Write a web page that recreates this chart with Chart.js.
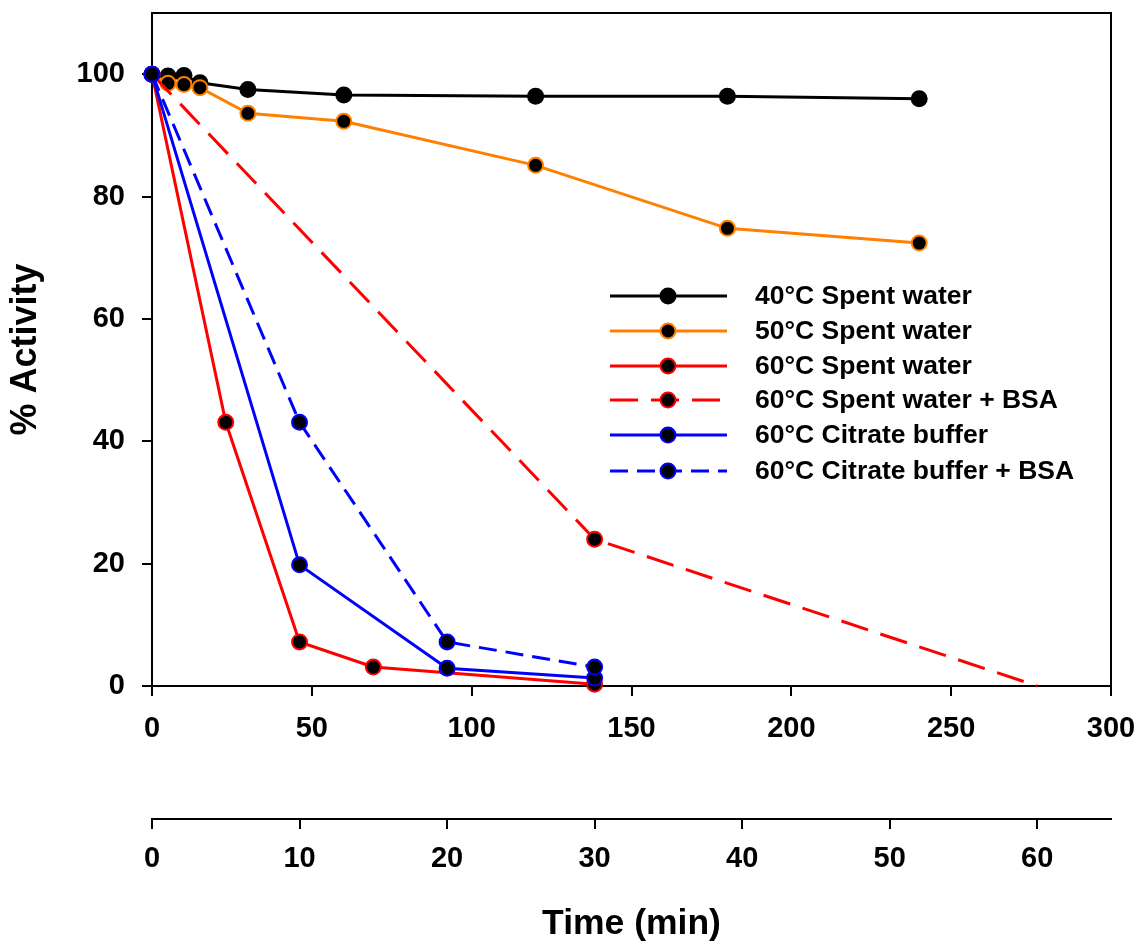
<!DOCTYPE html>
<html>
<head>
<meta charset="utf-8">
<script src="https://cdn.jsdelivr.net/npm/chart.js@4"></script>
<style>
  body { margin: 0; background: #fff; }
  #wrap { width: 1144px; height: 949px; }
</style>
</head>
<body>
<div id="wrap"><canvas id="chart"></canvas></div>
<script>
// time axes (min)
const timeLong = [0, 5, 10, 15, 30, 60, 120, 180, 240];
const time60 = [0, 5, 10, 15, 30];
const time60Bsa = [0, 30, 60];
const timeCitrate = [0, 10, 20, 30];

// % activity
const act40 = [100, 99.7, 99.8, 98.6, 97.5, 96.6, 96.4, 96.4, 96.0];
const act50 = [100, 98.5, 98.3, 97.8, 93.6, 92.3, 85.1, 74.8, 72.4];
const act60 = [100, 43.1, 7.2, 3.1, 0.3];
const act60Bsa = [100, 24.0, 0];
const actCitrate = [100, 19.8, 2.9, 1.3];
const actCitrateBsa = [100, 43.1, 7.2, 3.1];

const seriesNames = [
  '40°C Spent water',
  '50°C Spent water',
  '60°C Spent water',
  '60°C Spent water + BSA',
  '60°C Citrate buffer',
  '60°C Citrate buffer + BSA'
];

// axis ranges / tick steps
const yRange = { min: 0, max: 110, step: 20, lastTick: 100 };
const xRange = { min: 0, max: 300, step: 50, lastTick: 300 };
const x2Range = { min: 0, max: 65, step: 10, lastTick: 60 };

const FONT = "'Liberation Sans', Arial, sans-serif";

function pts(xs, ys) {
  return xs.map((x, i) => ({ x: x, y: ys[i] }));
}

function series(name, xs, ys, color, axis, dash, order) {
  return {
    label: name,
    data: pts(xs, ys),
    xAxisID: axis,
    showLine: true,
    borderColor: color,
    borderWidth: 3,
    borderDash: dash,
    pointBackgroundColor: '#000',
    pointBorderColor: color,
    pointBorderWidth: 2,
    pointRadius: 7.5,
    clip: false,
    order: order
  };
}

const datasets = [
  series(seriesNames[0], timeLong, act40, '#000000', 'x', [], 6),
  series(seriesNames[1], timeLong, act50, '#FF8000', 'x', [], 5),
  series(seriesNames[2], time60, act60, '#FF0000', 'x2', [], 4),
  series(seriesNames[3], time60Bsa, act60Bsa, '#FF0000', 'x2', [28, 13], 3),
  series(seriesNames[4], timeCitrate, actCitrate, '#0000FF', 'x2', [], 2),
  series(seriesNames[5], timeCitrate, actCitrateBsa, '#0000FF', 'x2', [18, 9], 1)
];
datasets[0].pointRadius = 8.5;
datasets[0].pointBorderWidth = 0;
datasets[3].pointRadius = [7.5, 7.5, 0];

// legend rows + box frame
const legendRows = [296, 331, 366, 400, 435, 471];
const framePlugin = {
  id: 'frameAndLegend',
  beforeDatasetsDraw(chart) {
    const { ctx, chartArea: a } = chart;
    ctx.save();
    ctx.strokeStyle = '#000';
    ctx.lineWidth = 2;
    ctx.beginPath();
    ctx.moveTo(a.left, a.top);
    ctx.lineTo(a.right, a.top);
    ctx.lineTo(a.right, a.bottom);
    ctx.stroke();
    ctx.restore();
  },
  afterDraw(chart) {
    const ctx = chart.ctx;
    ctx.save();
    chart.data.datasets.forEach((ds, i) => {
      const y = legendRows[i];
      ctx.strokeStyle = ds.borderColor;
      ctx.lineWidth = ds.borderWidth;
      ctx.setLineDash(ds.borderDash || []);
      ctx.beginPath();
      ctx.moveTo(610, y);
      ctx.lineTo(727, y);
      ctx.stroke();
      ctx.setLineDash([]);
      ctx.beginPath();
      const r = i === 0 ? 8.5 : 7.5;
      ctx.arc(668, y, r, 0, Math.PI * 2);
      ctx.fillStyle = '#000';
      ctx.fill();
      if (i > 0) {
        ctx.lineWidth = 2;
        ctx.strokeStyle = ds.borderColor;
        ctx.stroke();
      }
      ctx.fillStyle = '#000';
      ctx.font = 'bold 26.5px ' + FONT;
      ctx.textBaseline = 'middle';
      ctx.textAlign = 'left';
      ctx.fillText(ds.label, 755, y + 1);
    });
    ctx.restore();
  }
};

const tickFont = { family: FONT, size: 29, weight: 'bold' };
const gridOpts = { drawOnChartArea: false, tickLength: 10, color: '#000', lineWidth: 2 };
const borderOpts = { color: '#000', width: 2 };

function keepTo(limit) {
  return function (s) { s.ticks = s.ticks.filter(t => t.value <= limit); };
}

// fixed axis box sizes, no extra label padding around the plot
function fixSize(w, h) {
  return function (s) {
    if (w !== null) s.width = w;
    if (h !== null) s.height = h;
    s.paddingTop = 0;
    s.paddingBottom = 0;
    s.paddingLeft = 0;
    s.paddingRight = 0;
  };
}

new Chart(document.getElementById('chart'), {
  type: 'scatter',
  data: { datasets: datasets },
  plugins: [framePlugin],
  options: {
    responsive: true,
    maintainAspectRatio: false,
    animation: false,
    layout: { padding: { top: 13, right: 33, left: 0, bottom: 0 } },
    plugins: {
      legend: { display: false },
      tooltip: { enabled: false }
    },
    scales: {
      y: {
        min: yRange.min,
        max: yRange.max,
        bounds: 'data',
        ticks: { stepSize: yRange.step, padding: 17, font: tickFont, color: '#000' },
        afterBuildTicks: keepTo(yRange.lastTick),
        grid: gridOpts,
        border: borderOpts,
        title: {
          display: true,
          text: '% Activity',
          color: '#000',
          font: { family: FONT, size: 36, weight: 'bold' },
          padding: { top: 4, bottom: 0 }
        },
        afterFit: fixSize(152, null)
      },
      x: {
        type: 'linear',
        position: 'bottom',
        weight: 0,
        min: xRange.min,
        max: xRange.max,
        bounds: 'data',
        ticks: { stepSize: xRange.step, padding: 16, font: tickFont, color: '#000', maxRotation: 0 },
        afterBuildTicks: keepTo(xRange.lastTick),
        grid: gridOpts,
        border: borderOpts,
        afterFit: fixSize(null, 133)
      },
      x2: {
        type: 'linear',
        position: 'bottom',
        weight: 1,
        min: x2Range.min,
        max: x2Range.max,
        bounds: 'data',
        ticks: { stepSize: x2Range.step, padding: 13, font: tickFont, color: '#000', maxRotation: 0 },
        afterBuildTicks: keepTo(x2Range.lastTick),
        grid: gridOpts,
        border: borderOpts,
        title: {
          display: true,
          text: 'Time (min)',
          color: '#000',
          font: { family: FONT, size: 35.5, weight: 'bold' },
          padding: { top: 0, bottom: 3 }
        },
        afterFit: fixSize(null, 130)
      }
    }
  }
});
</script>
</body>
</html>
